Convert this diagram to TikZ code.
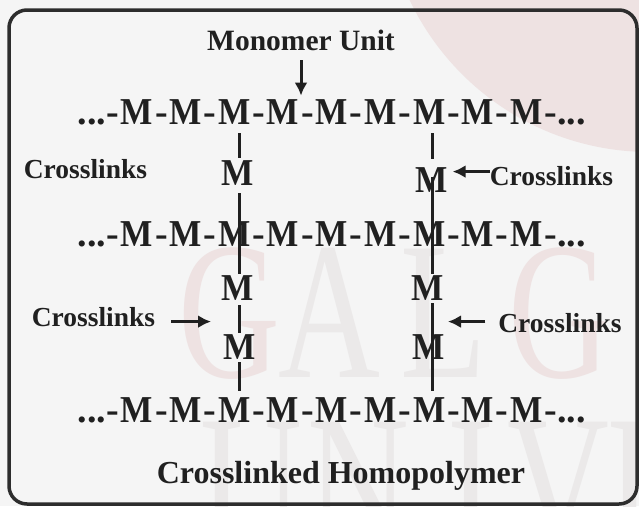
\documentclass[tikz,border=0pt]{standalone}
\usepackage{fontspec}
\setmainfont{Liberation Serif}
\usetikzlibrary{arrows.meta}

\definecolor{ink}{RGB}{32,32,32}
\definecolor{frame}{RGB}{45,45,45}
\definecolor{paper}{RGB}{245,245,245}
\definecolor{blush}{RGB}{238,226,226}
\definecolor{markpink}{RGB}{238,226,226}
\definecolor{markgrey}{RGB}{235,233,233}

% a slightly narrowed monomer letter
\newcommand\mglyph{\scalebox{0.9}[1]{M}}

% one polymer chain: #1 = name prefix, #2 = baseline
\newcommand\polyrow[2]{%
  \foreach \k in {1,...,9}{
    \node[chainfont] (#1-\k) at ({137+48.7*(\k-1)},#2) {\mglyph};
  }
  \foreach \k in {1,...,8}{
    \node[chainfont] (#1-h\k) at ({137+48.7*(\k-0.5)},#2) {-};
  }
  \node[chainfont, anchor=base east] (#1-l) at (118.8,#2) {...-};
  \node[chainfont, anchor=base west] (#1-r) at (544.6,#2) {-...};
}

\begin{document}
\begin{tikzpicture}[x=1pt, y=-1pt,
  txt/.style={inner sep=0pt, outer sep=0pt, text=ink, anchor=base},
  chainfont/.style={txt, font=\fontsize{38}{40}\selectfont\bfseries},
  tag/.style={txt, font=\fontsize{27.5}{30}\selectfont\bfseries},
  heading/.style={txt, font=\fontsize{29.5}{32}\selectfont\bfseries},
  caption/.style={txt, font=\fontsize{32}{34}\selectfont\bfseries},
  bond/.style={draw=ink, line width=3pt},
  pointer/.style={draw=ink, line width=3pt, -{Latex[length=13pt,width=13pt]}},
  markletter/.style={inner sep=0pt, outer sep=0pt, anchor=base west,
    font=\fontsize{196}{196}\selectfont},
]
\useasboundingbox (0,0) rectangle (639,506);
\clip (0,0) rectangle (639,506);

% paper and faint background stamp
\fill[paper] (0,0) rectangle (639,506);
\fill[blush] (650,-114) circle[radius=266];
\node[markletter, text=markpink] (wg1) at (178,377) {\scalebox{0.72}[1]{G}};
\node[markletter, text=markgrey] (wa) at (278,377) {\scalebox{0.72}[1]{A}};
\node[markletter, text=markgrey] (wl) at (400,377) {\scalebox{0.72}[1]{L}};
\node[markletter, text=markpink] (wg2) at (508,377) {\scalebox{0.72}[1]{G}};
\node[markletter, text=markgrey] (wu) at (200,550) {\scalebox{0.72}[1]{U}};
\node[markletter, text=markgrey] (wn) at (307,550) {\scalebox{0.72}[1]{N}};
\node[markletter, text=markgrey] (wi) at (447,550) {\scalebox{0.72}[1]{I}};
\node[markletter, text=markgrey] (wv) at (507,550) {\scalebox{0.72}[1]{V}};
\node[markletter, text=markgrey] (we) at (607,550) {\scalebox{0.72}[1]{E}};

% frame
\draw[frame, line width=3.5pt, rounded corners=18pt] (9,10) rectangle (637,504);

% the three chains
\polyrow{ra}{124}
\polyrow{rb}{246}
\polyrow{rc}{422.5}

% monomers of the crosslinks
\node[chainfont] (mL1) at (238,185) {\mglyph};
\node[chainfont] (mR1) at (432,192) {\mglyph};
\node[chainfont] (mL2) at (238,300) {\mglyph};
\node[chainfont] (mR2) at (428,300) {\mglyph};
\node[chainfont] (mL3) at (240,359) {\mglyph};
\node[chainfont] (mR3) at (429,359) {\mglyph};

\coordinate (colL) at (239.5,0);
\coordinate (colR) at (432,0);

% crosslink bonds, left column
\draw[bond, shorten <=9pt, shorten >=2.5pt] (colL |- ra-3.south) -- (colL |- mL1.north);
\draw[bond, shorten <=8pt, shorten >=1.5pt] (colL |- mL1.south) -- (colL |- mL2.north);
\draw[bond, shorten <=5pt, shorten >=1.5pt] (colL |- mL2.south) -- (colL |- mL3.north);
\draw[bond, shorten <=3pt, shorten >=7pt] (colL |- mL3.south) -- (colL |- rc-3.north);

% crosslink bonds, right column
\draw[bond, shorten <=9pt, shorten >=8.5pt] (colR |- ra-7.south) -- (colR |- mR1.north);
\draw[bond, shorten <=-3pt, shorten >=1.5pt] (colR |- mR1.center) -- (colR |- mR2.north);
\draw[bond, shorten <=3pt, shorten >=7pt] (colR |- mR2.south) -- (colR |- rc-7.north);

% labels
\node[heading] (mu) at (301,50) {Monomer Unit};
\node[tag] (cl1) at (85.5,178) {Crosslinks};
\node[tag] (cl2) at (551.5,185) {Crosslinks};
\node[tag] (cl3) at (93.5,326) {Crosslinks};
\node[tag] (cl4) at (560,332) {Crosslinks};
\node[caption] (title) at (341,483) {Crosslinked Homopolymer};

% pointers
\draw[pointer, shorten <=10pt, shorten >=3.5pt] (mu) -- (mu |- ra-4.north);
\draw[pointer, shorten >=4.5pt] ([yshift=4pt]cl2.west) -- ([yshift=4pt]cl2.west -| mR1.east);
\draw[pointer, shorten <=16pt, shorten >=28.5pt] ([yshift=-5pt]cl3.east) -- ([yshift=-5pt]cl3.east -| colL);
\draw[pointer, shorten <=13pt, shorten >=16pt] ([yshift=1pt]cl4.west) -- ([yshift=1pt]cl4.west -| colR);
\end{tikzpicture}
\end{document}
